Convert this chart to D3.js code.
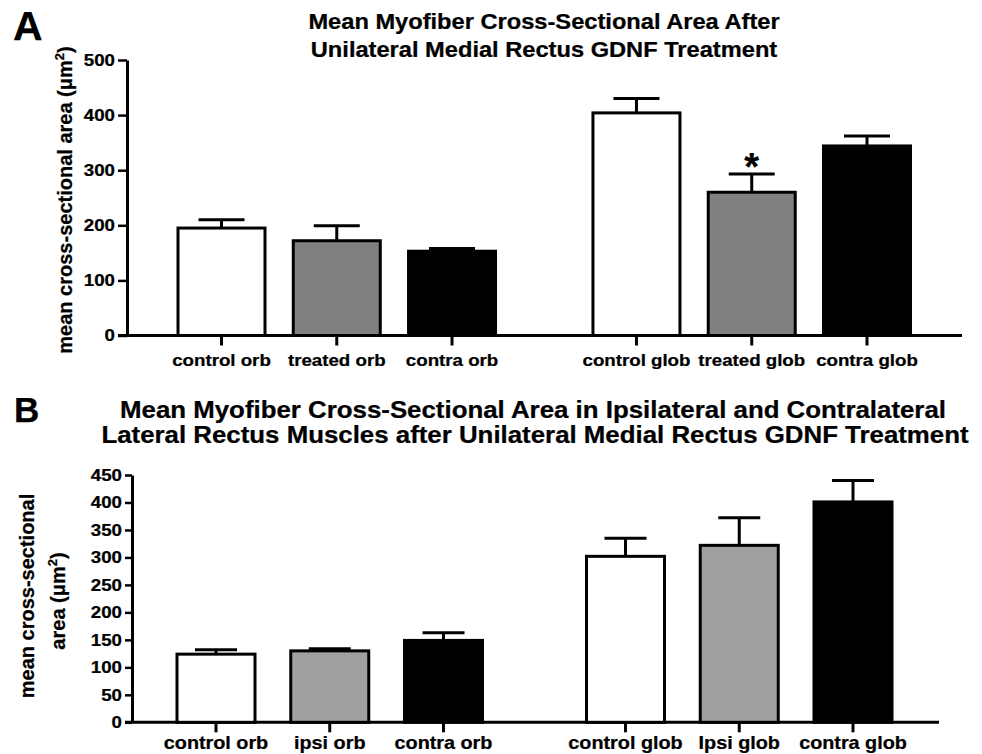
<!DOCTYPE html>
<html>
<head>
<meta charset="utf-8">
<script src="https://cdn.jsdelivr.net/npm/d3@7"></script>
<style>
    body { margin: 0; background: #fff; }
    text { font-family: "Liberation Sans", Arial, sans-serif; font-weight: bold; fill: #000; stroke: #000; stroke-width: 0.25px; }
</style>
</head>
<body>
<svg id="chart" width="982" height="754"></svg>
<script>
// slot index of each bar along the x axis (gap between orb and glob groups)
const slots = [0, 1, 2, 3.6, 4.6, 5.6];

const categoriesA = ['control orb', 'treated orb', 'contra orb', 'control glob', 'treated glob', 'contra glob'];
const meansA = [195, 172, 153, 404, 260, 344];
const errorsA = [15, 27, 5, 26, 33, 18];
const fillsA = ['#ffffff', '#808080', '#000000', '#ffffff', '#808080', '#000000'];
const marksA = ['', '', '', '', '*', ''];
const yTicksA = [0, 100, 200, 300, 400, 500];

const categoriesB = ['control orb', 'ipsi orb', 'contra orb', 'control glob', 'Ipsi glob', 'contra glob'];
const meansB = [124, 130, 149, 302, 322, 401];
const errorsB = [8, 4, 14, 33, 50, 39];
const fillsB = ['#ffffff', '#a0a0a0', '#000000', '#ffffff', '#a0a0a0', '#000000'];
const marksB = ['', '', '', '', '', ''];
const yTicksB = [0, 50, 100, 150, 200, 250, 300, 350, 400, 450];

// the chart's fonts are wide, so horizontal text is stretched a little
const SX = 1.1;

const svg = d3.select('#chart');

function label(g, x, y, str, size, anchor) {
    return g.append('text')
        .attr('transform', `translate(${x},${y}) scale(${SX},1)`)
        .attr('text-anchor', anchor || 'middle')
        .style('font-size', size + 'px')
        .text(str);
}

// rotated axis title with a superscript 2 on "μm"
function unitTitle(x, y, prefix) {
    const t = svg.append('text')
        .attr('transform', `translate(${x},${y}) rotate(-90)`)
        .attr('text-anchor', 'middle')
        .style('font-size', '20px');
    t.append('tspan').text(prefix + '(\u03bcm');
    t.append('tspan').attr('dy', -8).style('font-size', '13px').text('2');
    t.append('tspan').attr('dy', 8).text(')');
    return t;
}

function drawPanel(cfg) {
    const {
        categories, means, errors, fills, marks, yTicks,
        xRange, yRange, yMax, xLine, barWidth, capWidth,
        tickFont, catFont, catY, yTickSize,
    } = cfg;

    const g = svg.append('g');

    const x = d3.scaleLinear()
        .domain([slots[0], slots[slots.length - 1]])
        .range(xRange);

    const y = d3.scaleLinear()
        .domain([0, yMax])
        .range(yRange);

    // y axis
    const yAxis = g.append('g')
        .attr('transform', `translate(${xLine[0] + yTickSize},0)`)
        .call(d3.axisLeft(y).tickValues(yTicks).tickSizeInner(yTickSize).tickSizeOuter(0).tickPadding(3));

    yAxis.select('.domain').attr('stroke-width', 3);
    yAxis.selectAll('.tick line').attr('stroke-width', 2.5);
    yAxis.selectAll('.tick text')
        .attr('x', -(yTickSize + 3) / SX)
        .attr('transform', `scale(${SX},1)`)
        .attr('font-family', null)
        .attr('font-size', null)
        .style('font-size', tickFont + 'px');

    // x axis baseline + ticks
    g.append('line')
        .attr('x1', xLine[0]).attr('x2', xLine[1])
        .attr('y1', y(0)).attr('y2', y(0))
        .attr('stroke', '#000').attr('stroke-width', 3);

    g.selectAll('.xtick')
        .data(slots)
        .enter().append('line')
        .attr('class', 'xtick')
        .attr('x1', d => x(d)).attr('x2', d => x(d))
        .attr('y1', y(0)).attr('y2', y(0) + 10)
        .attr('stroke', '#000').attr('stroke-width', 3);

    slots.forEach((s, i) => label(g, x(s), catY, categories[i], catFont));

    // error bars (upper only)
    const err = g.selectAll('.err')
        .data(slots)
        .enter().append('g')
        .attr('class', 'err');

    err.append('line')
        .attr('x1', d => x(d)).attr('x2', d => x(d))
        .attr('y1', (d, i) => y(means[i]))
        .attr('y2', (d, i) => y(means[i] + errors[i]))
        .attr('stroke', '#000').attr('stroke-width', 3);

    err.append('line')
        .attr('x1', d => x(d) - capWidth / 2).attr('x2', d => x(d) + capWidth / 2)
        .attr('y1', (d, i) => y(means[i] + errors[i]))
        .attr('y2', (d, i) => y(means[i] + errors[i]))
        .attr('stroke', '#000').attr('stroke-width', 3);

    // bars
    g.selectAll('.bar')
        .data(slots)
        .enter().append('rect')
        .attr('class', 'bar')
        .attr('x', d => x(d) - barWidth / 2)
        .attr('y', (d, i) => y(means[i]))
        .attr('width', barWidth)
        .attr('height', (d, i) => y(0) - y(means[i]))
        .attr('fill', (d, i) => fills[i])
        .attr('stroke', '#000')
        .attr('stroke-width', 3);

    // significance marks
    slots.forEach((s, i) => {
        if (marks[i]) {
            g.append('text')
                .attr('x', x(s))
                .attr('y', y(means[i] + errors[i]) + 6)
                .attr('text-anchor', 'middle')
                .style('font-size', '38px')
                .text(marks[i]);
        }
    });

    return g;
}

// ---- Panel A
drawPanel({
    categories: categoriesA, means: meansA, errors: errorsA, fills: fillsA, marks: marksA, yTicks: yTicksA,
    xRange: [221.5, 867], yRange: [335.5, 60], yMax: 500,
    xLine: [118, 962], barWidth: 87, capWidth: 46,
    tickFont: 17, catFont: 17, catY: 366, yTickSize: 9,
});

svg.append('text').attr('x', 13).attr('y', 40).style('font-size', '41px').text('A');
label(svg, 544, 29, 'Mean Myofiber Cross-Sectional Area After', 21.5);
label(svg, 544, 57, 'Unilateral Medial Rectus GDNF Treatment', 21.5);
unitTitle(72, 200, 'mean cross-sectional area ');

// ---- Panel B
drawPanel({
    categories: categoriesB, means: meansB, errors: errorsB, fills: fillsB, marks: marksB, yTicks: yTicksB,
    xRange: [216, 853], yRange: [722.3, 475], yMax: 450,
    xLine: [125, 939], barWidth: 78, capWidth: 42,
    tickFont: 17, catFont: 18, catY: 749, yTickSize: 7,
});

svg.append('text').attr('x', 14).attr('y', 422).style('font-size', '35px').text('B');
label(svg, 533, 418, 'Mean Myofiber Cross-Sectional Area in Ipsilateral and Contralateral', 23.5);
label(svg, 535, 443, 'Lateral Rectus Muscles after Unilateral Medial Rectus GDNF Treatment', 23.5);

svg.append('text')
    .attr('transform', 'translate(34,596) rotate(-90)')
    .attr('text-anchor', 'middle')
    .style('font-size', '20px')
    .text('mean cross-sectional');
unitTitle(65, 601, 'area ');
</script>
</body>
</html>
